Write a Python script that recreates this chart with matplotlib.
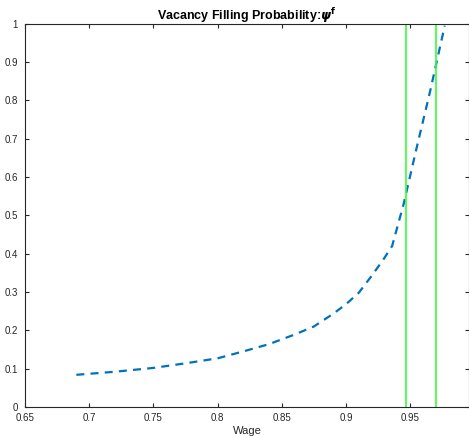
import numpy as np
import matplotlib.pyplot as plt

# wage grid and vacancy filling probability
wage = [0.69, 0.72, 0.75, 0.775, 0.80, 0.82, 0.84, 0.86, 0.875, 0.89,
        0.90, 0.91, 0.92, 0.929, 0.936, 0.945, 0.955, 0.965, 0.977]
psi_f = [0.084, 0.092, 0.102, 0.114, 0.127, 0.145, 0.164, 0.189, 0.210, 0.243,
         0.268, 0.298, 0.342, 0.384, 0.420, 0.530, 0.675, 0.815, 0.995]

# vertical reference wages
vlines = [0.9465, 0.9705]

xticks = [0.65, 0.7, 0.75, 0.8, 0.85, 0.9, 0.95]
xticklabels = ['0.65', '0.7', '0.75', '0.8', '0.85', '0.9', '0.95']
yticks = [0, 0.1, 0.2, 0.3, 0.4, 0.5, 0.6, 0.7, 0.8, 0.9, 1]
yticklabels = ['0', '0.1', '0.2', '0.3', '0.4', '0.5', '0.6', '0.7', '0.8', '0.9', '1']

plt.rcParams['font.family'] = ['Liberation Sans', 'DejaVu Sans']

fig = plt.figure(figsize=(4.69, 4.36), dpi=100)
ax = fig.add_axes([0.0533, 0.0665, 0.947, 0.879])

ax.plot(wage, psi_f, color='#0072BD', lw=1.6, linestyle=(0, (3.6, 2.8)))
for v in vlines:
    ax.axvline(v, color='#33ff33', lw=1.2)

ax.set_xlim(0.65, 0.996)
ax.set_ylim(0, 1)
ax.set_xticks(xticks)
ax.set_xticklabels(xticklabels)
ax.set_yticks(yticks)
ax.set_yticklabels(yticklabels)
ax.tick_params(direction='in', top=True, right=True, length=3, width=0.8,
               labelsize=7, colors='#262626')
ax.tick_params(axis='x', pad=4)
ax.tick_params(axis='y', pad=5)
for s in ax.spines.values():
    s.set_color('#262626')
    s.set_linewidth(0.8)

ax.set_xlabel('Wage', fontsize=8, color='#262626', labelpad=2.5)
ax.set_title(r'Vacancy Filling Probability:$\mathbfit{\psi}^{\mathbf{f}}$',
             fontsize=9, fontweight='bold', pad=3)

fig.savefig('out.png', dpi=100)
